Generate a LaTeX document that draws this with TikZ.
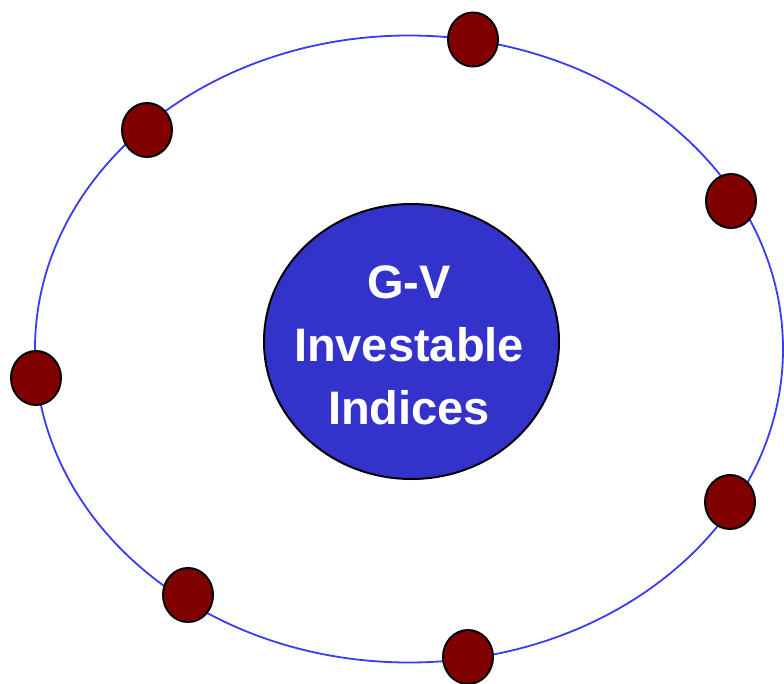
\documentclass[tikz,border=0pt]{standalone}
\usepackage{fontspec}
\setmainfont{Liberation Sans}
\usetikzlibrary{shapes.geometric}

\definecolor{orbitblue}{HTML}{3B3BF5}
\definecolor{hubblue}{HTML}{3333CC}
\definecolor{dotred}{HTML}{800000}

\begin{document}
\begin{tikzpicture}[x=1pt,y=-1pt]
\tikzset{
  orbit/.style={ellipse,draw=orbitblue,line width=1.8pt,inner sep=0pt,minimum width=748pt,minimum height=627pt},
  hub/.style={ellipse,draw=black,line width=2pt,fill=hubblue,inner sep=0pt,minimum width=295pt,minimum height=275pt},
  hublabel/.style={text=white,font=\fontsize{47}{63}\selectfont\bfseries,align=center,inner sep=0pt},
  planet/.style={ellipse,draw=black,line width=2pt,fill=dotred,inner sep=0pt,minimum width=50pt,minimum height=54pt}
}
\useasboundingbox (0,0) rectangle (784,683);
\node[orbit] (o_ring) at (409,349) {};
\node[hub] (o_hub) at (411.5,341.5) {};
\node[hublabel] (o_text) at (409,345) {G-V\\Investable\\Indices};
\node[planet] (p_top) at (473,39.5) {};
\node[planet] (p_ul) at (147,130) {};
\node[planet] (p_ur) at (731,201) {};
\node[planet] (p_left) at (36,378) {};
\node[planet] (p_lr) at (730,502) {};
\node[planet] (p_ll) at (188,595) {};
\node[planet] (p_bot) at (468,657) {};
\end{tikzpicture}
\end{document}
